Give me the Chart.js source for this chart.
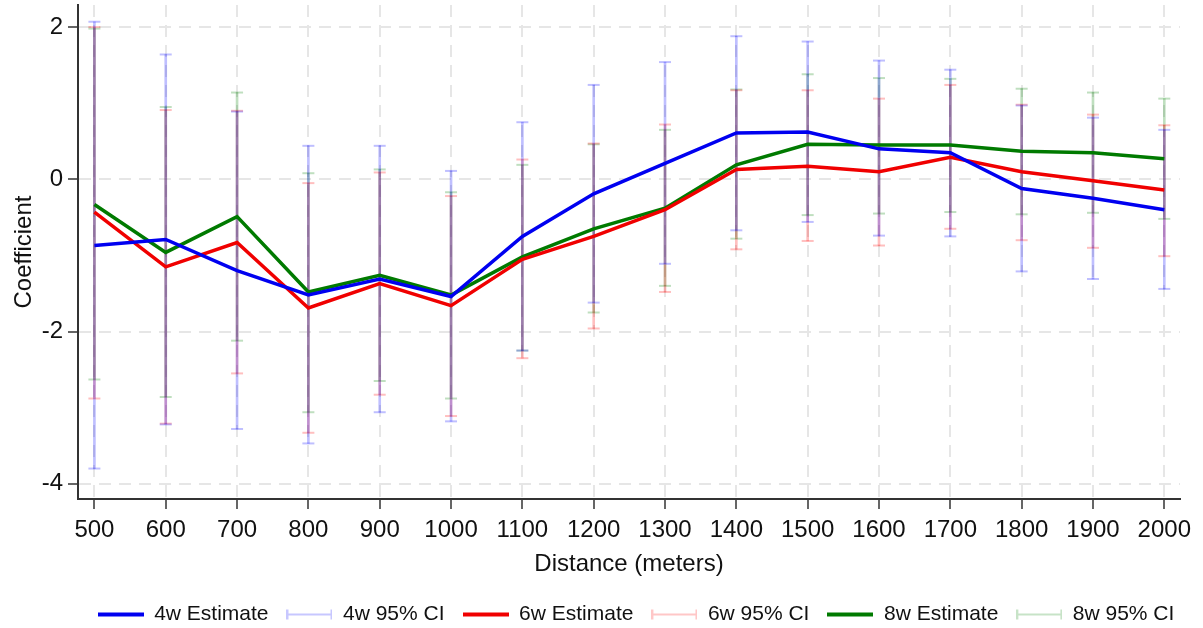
<!DOCTYPE html>
<html>
<head>
<meta charset="utf-8">
<script src="https://cdn.jsdelivr.net/npm/chart.js@4/dist/chart.umd.min.js"></script>
<style>
  html, body { margin: 0; padding: 0; background: #ffffff; }
  #wrap { width: 1203px; height: 628px; position: relative; }
</style>
</head>
<body>
<div id="wrap"><canvas id="coef_chart"></canvas></div>
<script>
// distance bins
var distances = [500, 600, 700, 800, 900, 1000, 1100, 1200, 1300, 1400, 1500, 1600, 1700, 1800, 1900, 2000];

// 4 week window
var est_4w = [-0.87, -0.79, -1.20, -1.52, -1.31, -1.54, -0.75, -0.19, 0.21, 0.61, 0.62, 0.40, 0.35, -0.12, -0.25, -0.40];
var lo_4w  = [-3.80, -3.22, -3.28, -3.47, -3.06, -3.18, -2.25, -1.62, -1.11, -0.67, -0.56, -0.74, -0.75, -1.21, -1.31, -1.44];
var hi_4w  = [2.07, 1.64, 0.89, 0.44, 0.44, 0.11, 0.75, 1.24, 1.54, 1.88, 1.81, 1.56, 1.44, 0.97, 0.81, 0.65];

// 6 week window
var est_6w = [-0.43, -1.15, -0.83, -1.69, -1.37, -1.66, -1.05, -0.75, -0.40, 0.13, 0.17, 0.10, 0.29, 0.10, -0.02, -0.14];
var lo_6w  = [-2.88, -3.21, -2.55, -3.33, -2.83, -3.11, -2.35, -1.96, -1.48, -0.92, -0.81, -0.87, -0.65, -0.80, -0.90, -1.01];
var hi_6w  = [2.00, 0.91, 0.90, -0.05, 0.09, -0.22, 0.26, 0.47, 0.72, 1.17, 1.17, 1.06, 1.24, 0.98, 0.85, 0.71];

// 8 week window
var est_8w = [-0.33, -0.96, -0.49, -1.48, -1.26, -1.52, -1.02, -0.65, -0.38, 0.19, 0.46, 0.45, 0.45, 0.37, 0.35, 0.27];
var lo_8w  = [-2.63, -2.86, -2.12, -3.06, -2.65, -2.88, -2.25, -1.75, -1.40, -0.78, -0.47, -0.45, -0.43, -0.46, -0.44, -0.52];
var hi_8w  = [1.98, 0.95, 1.14, 0.08, 0.13, -0.17, 0.19, 0.46, 0.65, 1.18, 1.38, 1.33, 1.32, 1.19, 1.14, 1.06];

var y_ticks = [-4, -2, 0, 2];

var FONT = "'Liberation Sans', Arial, Helvetica, sans-serif";

function points(values)
{
  return distances.map(function (d, i) { return {x: d, y: values[i]}; });
}

function ranges(lo, hi)
{
  return distances.map(function (d, i) { return {x: d, y: [lo[i], hi[i]]}; });
}

// little pictures for the legend
function line_symbol(color)
{
  var c = document.createElement('canvas');
  c.width = 46; c.height = 14;
  var g = c.getContext('2d');
  g.fillStyle = color;
  g.fillRect(0, 5, 46, 4);
  return c;
}

function cap_symbol(color)
{
  var c = document.createElement('canvas');
  c.width = 46; c.height = 14;
  var g = c.getContext('2d');
  g.strokeStyle = color;
  g.lineWidth = 2;
  g.beginPath();
  g.moveTo(1, 7); g.lineTo(45, 7);
  g.moveTo(1, 2); g.lineTo(1, 12);
  g.moveTo(45, 2); g.lineTo(45, 12);
  g.stroke();
  return c;
}

function estimate_set(label, values, color)
{
  return {
    type: 'line', label: label, data: points(values),
    borderColor: color, backgroundColor: color, borderWidth: 3.5,
    pointRadius: 0, tension: 0, order: 0, legendSymbol: line_symbol(color)
  };
}

function ci_set(label, lo, hi, color, legend_color)
{
  return {
    type: 'bar', label: label, data: ranges(lo, hi),
    backgroundColor: color, borderWidth: 0, barThickness: 2,
    grouped: false, order: 1, isCI: true, legendSymbol: cap_symbol(legend_color)
  };
}

// caps on the confidence intervals
var ci_caps = {
  id: 'ci_caps',
  afterDatasetDraw: function (chart, args)
  {
    var ds = chart.data.datasets[args.index];
    if (!ds.isCI) return;
    var ctx = chart.ctx;
    ctx.save();
    ctx.strokeStyle = ds.backgroundColor;
    ctx.lineWidth = 2;
    args.meta.data.forEach(function (bar) {
      var p = bar.getProps(['x', 'y', 'base'], true);
      [p.y, p.base].forEach(function (yy) {
        ctx.beginPath();
        ctx.moveTo(p.x - 6, yy);
        ctx.lineTo(p.x + 6, yy);
        ctx.stroke();
      });
    });
    ctx.restore();
  }
};

// nudge the legend to the right, like the original
var legend_nudge = {
  id: 'legend_nudge',
  beforeDraw: function (chart)
  {
    if (!chart.legend || chart.legend._nudged) return;
    chart.legend.left += 46;
    chart.legend.right += 46;
    chart.legend._nudged = true;
  }
};

window.onload = function ()
{
  var datasets = [
    estimate_set('4w Estimate', est_4w, '#0000f0'),
    ci_set('4w 95% CI', lo_4w, hi_4w, 'rgba(0,0,255,0.25)', 'rgba(0,0,255,0.22)'),
    estimate_set('6w Estimate', est_6w, '#f00000'),
    ci_set('6w 95% CI', lo_6w, hi_6w, 'rgba(255,0,0,0.25)', 'rgba(255,0,0,0.22)'),
    estimate_set('8w Estimate', est_8w, '#007a00'),
    ci_set('8w 95% CI', lo_8w, hi_8w, 'rgba(0,128,0,0.25)', 'rgba(0,128,0,0.22)')
  ];

  var grid_opts = {
    color: '#e6e6e6', lineWidth: 2, drawTicks: true, offset: false,
    tickLength: 10, tickColor: '#333333', tickWidth: 1.5
  };
  var border_opts = { display: true, color: '#333333', width: 2, dash: [12, 8] };

  var ctx = document.getElementById('coef_chart').getContext('2d');
  var chart = new Chart(ctx, {
    type: 'line',
    data: { datasets: datasets },
    plugins: [ci_caps, legend_nudge],
    options: {
      responsive: true,
      maintainAspectRatio: false,
      animation: false,
      events: [],
      layout: { padding: { top: 5, right: 23, left: 0, bottom: -7 } },
      scales: {
        x: {
          type: 'linear', min: 477, max: 2022, offset: false,
          grid: grid_opts, border: border_opts,
          afterBuildTicks: function (s) { s.ticks = distances.map(function (v) { return {value: v}; }); },
          afterFit: function (s) { s.height = 87; s.paddingLeft = 0; s.paddingRight = 0; },
          ticks: {
            color: '#111111', font: { family: FONT, size: 24 }, padding: 7, maxRotation: 0, autoSkip: false,
            callback: function (v) { return String(v); }
          },
          title: { display: true, text: 'Distance (meters)', color: '#111111', font: { family: FONT, size: 24 }, padding: { top: 4, bottom: 7 } }
        },
        y: {
          min: -4.2, max: 2.29,
          grid: grid_opts, border: border_opts,
          afterBuildTicks: function (s) { s.ticks = y_ticks.map(function (v) { return {value: v}; }); },
          afterFit: function (s) { s.width = 78; s.paddingTop = 0; s.paddingBottom = 0; },
          ticks: { color: '#111111', font: { family: FONT, size: 24 }, padding: 5, callback: function (v) { return String(v); } },
          title: { display: true, text: 'Coefficient', color: '#111111', font: { family: FONT, size: 24 }, padding: { top: 10, bottom: 4 } }
        }
      },
      plugins: {
        tooltip: { enabled: false },
        legend: {
          position: 'bottom',
          fullSize: true,
          labels: {
            color: '#111111',
            font: { family: FONT, size: 21 },
            usePointStyle: true,
            pointStyleWidth: 46,
            padding: 18,
            sort: function (a, b) { return a.datasetIndex - b.datasetIndex; },
            generateLabels: function (chart) {
              var items = Chart.defaults.plugins.legend.labels.generateLabels(chart);
              items.forEach(function (it) { it.pointStyle = chart.data.datasets[it.datasetIndex].legendSymbol; });
              return items;
            }
          }
        }
      }
    }
  });
};
</script>
</body>
</html>
